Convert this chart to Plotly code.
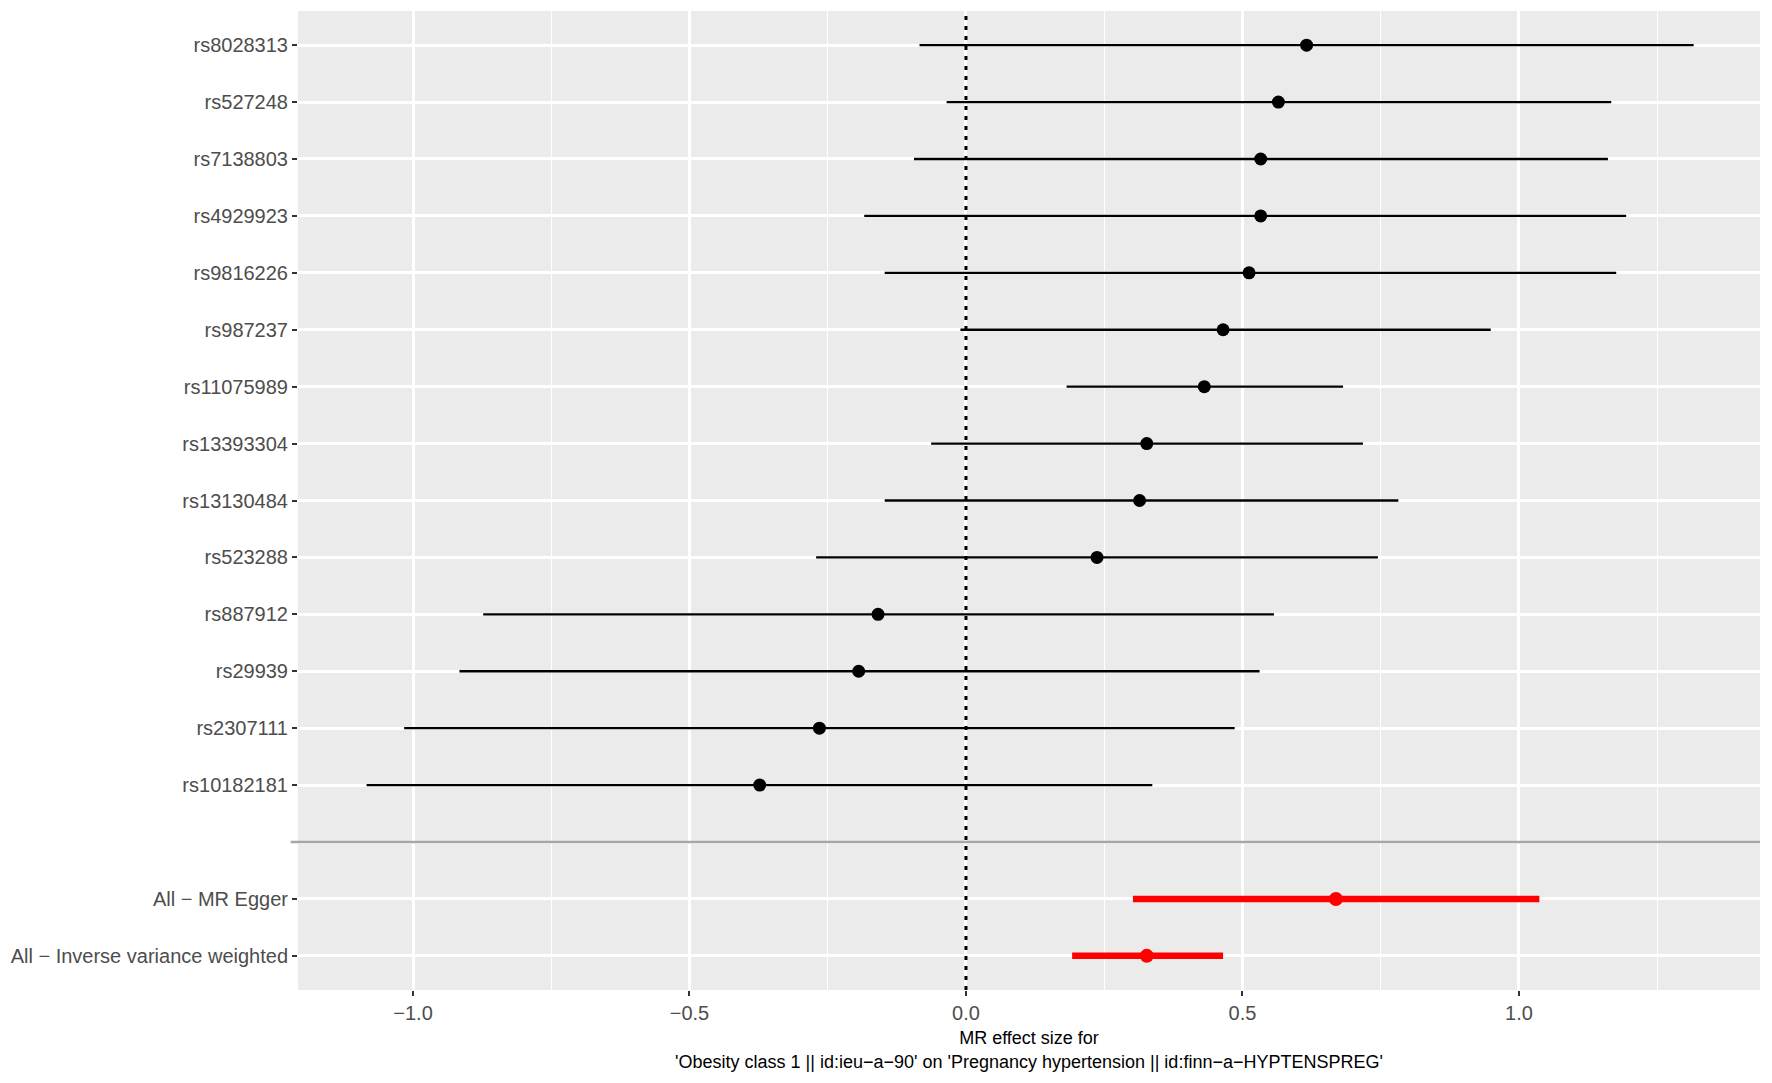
import plotly.graph_objects as go

# ---- data ----
snps = ["rs8028313", "rs527248", "rs7138803", "rs4929923", "rs9816226", "rs987237",
        "rs11075989", "rs13393304", "rs13130484", "rs523288", "rs887912", "rs29939",
        "rs2307111", "rs10182181"]
snp_b = [0.616, 0.565, 0.533, 0.533, 0.512, 0.465, 0.431, 0.327, 0.314, 0.237,
         -0.159, -0.194, -0.265, -0.373]
snp_lo = [-0.084, -0.035, -0.094, -0.184, -0.147, -0.010, 0.182, -0.063, -0.147, -0.271,
          -0.873, -0.916, -1.016, -1.084]
snp_hi = [1.316, 1.167, 1.161, 1.194, 1.176, 0.949, 0.682, 0.718, 0.782, 0.745,
          0.557, 0.531, 0.486, 0.337]

methods = ["All \u2212 MR Egger", "All \u2212 Inverse variance weighted"]
method_b = [0.669, 0.327]
method_lo = [0.302, 0.192]
method_hi = [1.037, 0.465]

x_ticks = [-1.0, -0.5, 0.0, 0.5, 1.0]
x_tick_text = ["\u22121.0", "\u22120.5", "0.0", "0.5", "1.0"]
x_title = ("MR effect size for<br>'Obesity class 1 || id:ieu\u2212a\u221290' on "
           "'Pregnancy hypertension || id:finn\u2212a\u2212HYPTENSPREG'")

# ---- positions (categorical rows, with one blank separator row) ----
labels = snps + [""] + methods
ypos = list(range(1, len(labels) + 1))
snp_y = ypos[:len(snps)]
sep_y = ypos[len(snps)]
method_y = ypos[len(snps) + 1:]

FONT = "Liberation Sans, Arial, sans-serif"

fig = go.Figure()

fig.add_trace(go.Scatter(
    x=snp_b, y=snp_y, mode="markers",
    marker=dict(color="black", size=13),
    error_x=dict(type="data", symmetric=False,
                 array=[h - b for h, b in zip(snp_hi, snp_b)],
                 arrayminus=[b - l for b, l in zip(snp_b, snp_lo)],
                 color="black", thickness=2.3, width=0),
    showlegend=False, hoverinfo="skip"))

fig.add_trace(go.Scatter(
    x=method_b, y=method_y, mode="markers",
    marker=dict(color="#FF0000", size=14),
    error_x=dict(type="data", symmetric=False,
                 array=[h - b for h, b in zip(method_hi, method_b)],
                 arrayminus=[b - l for b, l in zip(method_b, method_lo)],
                 color="#FF0000", thickness=6.5, width=0),
    showlegend=False, hoverinfo="skip"))

# zero line (dotted)
fig.add_shape(type="line", xref="x", yref="paper", x0=0, x1=0, y0=0, y1=1,
              line=dict(color="black", width=3, dash="4px,6px"), layer="above")
# separator line
fig.add_shape(type="line", xref="paper", yref="y", x0=-0.005, x1=1, y0=sep_y, y1=sep_y,
              line=dict(color="#A6A6A6", width=2.5), layer="above")

fig.update_layout(
    width=1756, height=1067,
    margin=dict(l=288, r=4, t=3, b=85),
    paper_bgcolor="white", plot_bgcolor="#EBEBEB",
    font=dict(family=FONT, color="#1A1A1A"),
)

fig.update_xaxes(
    range=[-1.208, 1.436],
    tickvals=x_ticks, ticktext=x_tick_text,
    showgrid=True, gridcolor="white", gridwidth=2.5,
    minor=dict(dtick=0.25, tick0=0.25, showgrid=True, gridcolor="white", gridwidth=1.2),
    ticks="outside", ticklen=5, tickwidth=2, tickcolor="#333333",
    tickfont=dict(size=20, color="#4D4D4D", family=FONT),
    zeroline=False, showline=False,
    title=dict(text=x_title, font=dict(size=18, color="black", family=FONT), standoff=8),
)

fig.update_yaxes(
    range=[len(labels) + 0.6, 0.4],
    tickvals=ypos, ticktext=labels,
    showgrid=True, gridcolor="white", gridwidth=2.5,
    ticks="outside", ticklen=5, tickwidth=2, tickcolor="#333333",
    tickfont=dict(size=20, color="#4D4D4D", family=FONT),
    zeroline=False, showline=False,
)

fig.write_html("out.html")
